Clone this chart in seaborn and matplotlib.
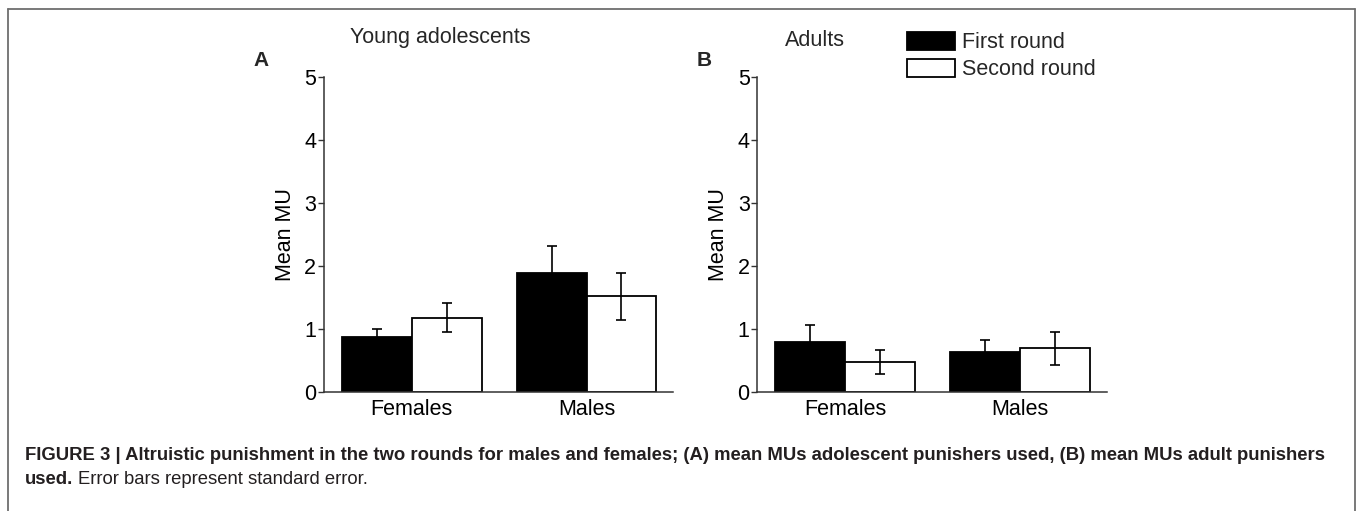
import matplotlib
matplotlib.use("Agg")
import matplotlib.pyplot as plt
import seaborn as sns
import pandas as pd
from matplotlib.lines import Line2D

sns.set_theme(style="ticks")
plt.rcParams['font.family'] = ['Liberation Sans', 'DejaVu Sans']

# ---- data ----
genders = ["Females", "Males"]
rounds = ["First round", "Second round"]
adol_first = [0.88, 1.88]
adol_second = [1.18, 1.52]
adol_first_se = [0.12, 0.44]
adol_second_se = [0.235, 0.375]
adult_first = [0.80, 0.63]
adult_second = [0.47, 0.69]
adult_first_se = [0.265, 0.20]
adult_second_se = [0.19, 0.265]
panel_titles = ["Young adolescents", "Adults"]
panel_letters = ["A", "B"]
y_ticks = [0, 1, 2, 3, 4, 5]

def make_df(first, second, first_se, second_se):
    rows = []
    for g, v, s in zip(genders, first, first_se):
        rows.append(dict(gender=g, round=rounds[0], value=v, se=s))
    for g, v, s in zip(genders, second, second_se):
        rows.append(dict(gender=g, round=rounds[1], value=v, se=s))
    return pd.DataFrame(rows)

dfs = [make_df(adol_first, adol_second, adol_first_se, adol_second_se),
       make_df(adult_first, adult_second, adult_first_se, adult_second_se)]

W, H = 1358, 511
fig = plt.figure(figsize=(W / 100, H / 100), dpi=100)
fig.patch.set_facecolor("white")

axes_px = [(324, 673), (757.3, 1106.7)]
y_top, y_bot = 76.7, 392.0
palette = {rounds[0]: "black", rounds[1]: "white"}
spine_color = "#333333"
FS = 15.5

for i, (df, (xl, xr)) in enumerate(zip(dfs, axes_px)):
    ax = fig.add_axes([xl / W, 1 - y_bot / H, (xr - xl) / W, (y_bot - y_top) / H])
    sns.barplot(data=df, x="gender", y="value", hue="round", order=genders,
                hue_order=rounds, palette=palette, edgecolor="black",
                linewidth=1.3, errorbar=None, width=0.8, saturation=1,
                ax=ax, legend=(i == 1))
    # error bars from bar geometry
    for container, r in zip(ax.containers, rounds):
        sub = df[df["round"] == r].set_index("gender").loc[genders]
        xs = [p.get_x() + p.get_width() / 2 for p in container.patches]
        ys = [p.get_height() for p in container.patches]
        ax.errorbar(xs, ys, yerr=sub["se"].values, fmt="none", ecolor="black",
                    elinewidth=1.2, capsize=3.5, capthick=1.2, zorder=5)
    ax.set_xlim(-0.503, 1.495)
    ax.set_ylim(0, 5)
    ax.set_yticks(y_ticks)
    ax.set_xlabel("")
    ax.set_ylabel("Mean MU", fontsize=FS, color="black", labelpad=6)
    ax.tick_params(axis="y", labelsize=FS, length=4, width=1, color=spine_color,
                   pad=1.5, labelcolor="black")
    ax.tick_params(axis="x", labelsize=FS, length=0, pad=5, labelcolor="black")
    sns.despine(ax=ax)
    for s in ["left", "bottom"]:
        ax.spines[s].set_color(spine_color)
        ax.spines[s].set_linewidth(1.1)
    ax.set_facecolor("white")
    if i == 1:
        leg = ax.legend(loc="upper left", bbox_to_anchor=(907 / W, 1 - 32 / H),
                        bbox_transform=fig.transFigure, frameon=False,
                        fontsize=FS, handlelength=2.25, handleheight=0.92,
                        handletextpad=0.3, labelspacing=0.25, borderpad=0,
                        borderaxespad=0)
        for h in leg.legend_handles:
            h.set_edgecolor("black")
            h.set_linewidth(1.3)

# titles and panel letters
fig.text(440 / W, 1 - 38 / H, panel_titles[0], ha="center", va="center", fontsize=FS)
fig.text(815 / W, 1 - 40 / H, panel_titles[1], ha="center", va="center", fontsize=FS)
fig.text(261 / W, 1 - 60 / H, panel_letters[0], ha="center", va="center",
         fontsize=15, fontweight="bold")
fig.text(704 / W, 1 - 60 / H, panel_letters[1], ha="center", va="center",
         fontsize=15, fontweight="bold")

# frame
fc = "#6e6e6e"
fig.add_artist(Line2D([8 / W, 8 / W], [0, 1 - 9 / H], transform=fig.transFigure,
                      color=fc, lw=1.3))
fig.add_artist(Line2D([8 / W, 1355 / W], [1 - 9 / H, 1 - 9 / H],
                      transform=fig.transFigure, color=fc, lw=1.3))
fig.add_artist(Line2D([1355 / W, 1355 / W], [0, 1 - 9 / H],
                      transform=fig.transFigure, color=fc, lw=1.3))

# caption
cap_col = "#231f20"
CFS = 13.3
cap1 = ("FIGURE 3 | Altruistic punishment in the two rounds for males and females; "
        "(A) mean MUs adolescent punishers used, (B) mean MUs adult punishers")
fig.text(25 / W, 1 - 455 / H, cap1, ha="left", va="center", fontsize=CFS,
         fontweight="bold", color=cap_col)
t_bold = fig.text(25 / W, 1 - 480 / H, "used.", ha="left", va="center",
                  fontsize=CFS, fontweight="bold", color=cap_col)
fig.canvas.draw()
bb = t_bold.get_window_extent()
fig.text((bb.x1 + 5) / W, 1 - 480 / H, "Error bars represent standard error.",
         ha="left", va="center", fontsize=CFS, color=cap_col)

fig.savefig("out.png", dpi=100, facecolor="white")
